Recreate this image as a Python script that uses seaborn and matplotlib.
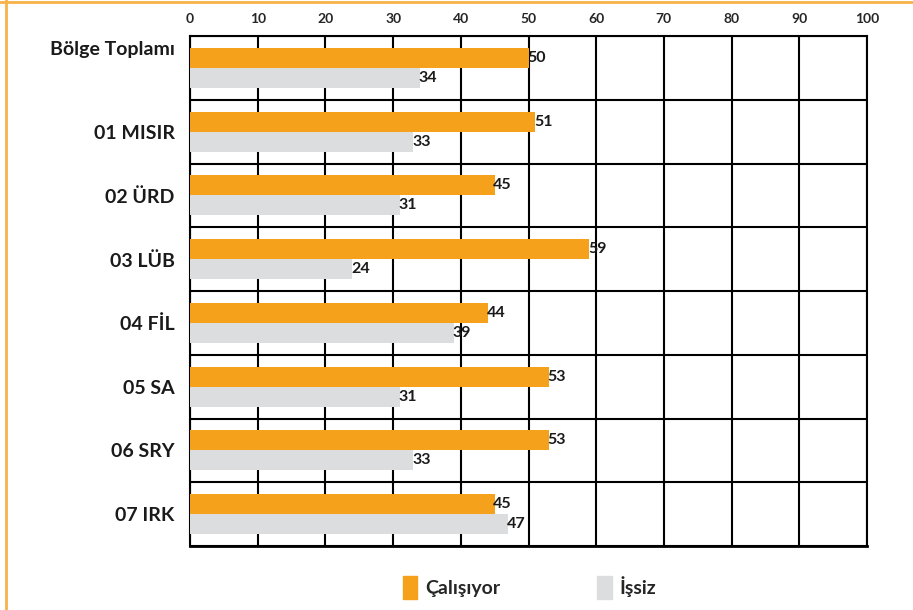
import pandas as pd
import matplotlib.pyplot as plt
import matplotlib.transforms as mtransforms
from matplotlib.lines import Line2D
import seaborn as sns

sns.set_theme(style="white")
plt.rcParams["font.family"] = ["Lato", "DejaVu Sans"]

regions = ["Bölge Toplamı", "01 MISIR", "02 ÜRD", "03 LÜB", "04 FİL", "05 SA", "06 SRY", "07 IRK"]
calisiyor = [50, 51, 45, 59, 44, 53, 53, 45]
issiz = [34, 33, 31, 24, 39, 31, 33, 47]
x_ticks = [0, 10, 20, 30, 40, 50, 60, 70, 80, 90, 100]

df = pd.DataFrame({
    "bolge": regions * 2,
    "deger": calisiyor + issiz,
    "durum": ["Çalışıyor"] * len(regions) + ["İşsiz"] * len(regions),
})

fig = plt.figure(figsize=(9.13, 6.10), dpi=100)
ax = fig.add_axes([190 / 913, 1 - 546 / 610, 677 / 913, 510 / 610])

sns.barplot(data=df, y="bolge", x="deger", hue="durum", orient="h",
            palette=["#F5A11C", "#DCDDDE"], width=0.63, ax=ax, legend=False,
            saturation=1, linewidth=0)

for cont in ax.containers:
    ax.bar_label(cont, padding=-1, fontsize=11.5, fontweight="bold", color="#1a1a1a")

ax.set_xlim(0, 100)
ax.set_ylim(len(regions) - 0.5, -0.5)
ax.set_xticks(x_ticks)
ax.xaxis.tick_top()
ax.tick_params(axis="x", length=0, pad=8, labelsize=10)
for lab in ax.get_xticklabels():
    lab.set_fontweight("bold")
ax.set_xlabel("")
ax.set_ylabel("")

# kategori sinirlari: minor tick + grid
ax.set_yticks([i - 0.5 for i in range(len(regions) + 1)], minor=True)
ax.tick_params(axis="y", which="major", length=0, pad=11, labelsize=14)
ax.tick_params(axis="y", which="minor", length=7, width=1.5, color="black", direction="out")
ax.grid(axis="y", which="minor", color="black", linewidth=1.5)
ax.grid(axis="x", which="major", color="black", linewidth=1.5)
ax.set_axisbelow(False)
for lab in ax.get_yticklabels():
    lab.set_fontweight("bold")
    lab.set_color("#1a1a1a")

# ilk etiket blogun ustunde
first = ax.get_yticklabels()[0]
first.set_transform(first.get_transform() + mtransforms.ScaledTranslation(0, 0.2, fig.dpi_scale_trans))

for side in ["top", "bottom", "left", "right"]:
    ax.spines[side].set_color("black")
    ax.spines[side].set_linewidth(1.5)
ax.spines["bottom"].set_linewidth(2)

for bar in ax.patches:
    bar.set_zorder(3)

# legend
handles = [plt.Rectangle((0, 0), 1, 1, color="#F5A11C"), plt.Rectangle((0, 0), 1, 1, color="#DCDDDE")]
fig.legend(handles, ["Çalışıyor", "İşsiz"], loc="center", bbox_to_anchor=(0.58, 0.037),
           ncol=2, frameon=False, handlelength=0.75, handleheight=1.4, handletextpad=0.4,
           columnspacing=5.0, prop={"size": 14, "weight": "bold"})

# turuncu cerceve
fig.add_artist(Line2D([0, 1], [1 - 1.5 / 610, 1 - 1.5 / 610], color="#F9B14A", linewidth=2, transform=fig.transFigure))
fig.add_artist(Line2D([6 / 913, 6 / 913], [0, 1], color="#F9B14A", linewidth=2, transform=fig.transFigure))

fig.savefig("out.png", dpi=100)
